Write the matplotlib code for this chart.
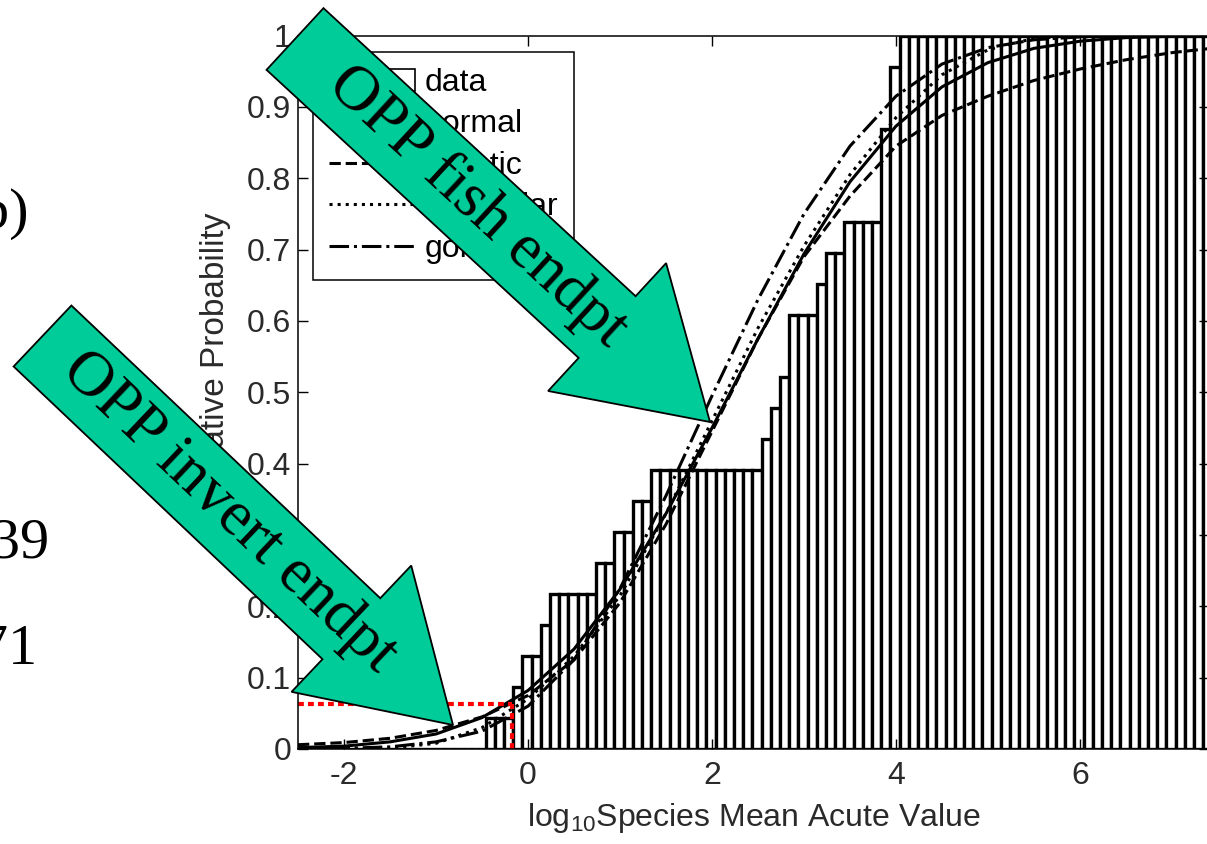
import numpy as np
import matplotlib
matplotlib.use("Agg")
import matplotlib.pyplot as plt
from matplotlib.patches import Polygon, Rectangle

plt.rcParams['font.family'] = ['Liberation Sans', 'DejaVu Sans']
plt.rcParams['mathtext.default'] = 'regular'
plt.rcParams['axes.unicode_minus'] = False

# species mean acute values (log10)
species_log = [-0.41, -0.11, -0.01, 0.19, 0.29, 0.79, 0.99, 1.19, 1.39,
               2.59, 2.69, 2.79, 2.89, 2.89, 3.19, 3.29, 3.49,
               3.89, 3.89, 3.89, 3.99, 3.99, 4.09]
bin_start, bin_width, n_bins = -2.46, 0.1, 105

# fitted cdfs
fit_x = [-2.5, -2, -1.5, -1, -0.5, 0, 0.5, 1, 1.5, 2, 2.5, 3, 3.5, 4,
         4.5, 5, 5.5, 6, 6.5, 7, 7.5, 8]
normal_p = [0.002, 0.004, 0.010, 0.021, 0.044, 0.082, 0.140, 0.224, 0.330, 0.450, 0.575,
            0.694, 0.795, 0.873, 0.928, 0.962, 0.982, 0.992, 0.997, 0.999, 1.0, 1.0]
logistic_p = [0.006, 0.009, 0.015, 0.026, 0.045, 0.075, 0.125, 0.205, 0.315, 0.445, 0.575,
              0.690, 0.775, 0.845, 0.888, 0.915, 0.937, 0.953, 0.966, 0.976, 0.983, 0.988]
triangular_p = [0.0, 0.0, 0.001, 0.008, 0.030, 0.070, 0.130, 0.215, 0.330, 0.460, 0.590,
                0.705, 0.805, 0.885, 0.945, 0.980, 0.996, 1.0, 1.0, 1.0, 1.0, 1.0]
gompertz_p = [0.0, 0.001, 0.003, 0.010, 0.025, 0.060, 0.125, 0.225, 0.355, 0.495, 0.630,
              0.750, 0.845, 0.915, 0.960, 0.983, 0.994, 0.998, 1.0, 1.0, 1.0, 1.0]
hc5_x, hc5_p = -0.17, 0.063

edges = bin_start + bin_width * np.arange(n_bins + 1)
counts, _ = np.histogram(species_log, bins=edges)
cdf = np.cumsum(counts) / len(species_log)

W, H = 1207, 844
fig = plt.figure(figsize=(W / 100, H / 100), dpi=100)
ax = fig.add_axes([298 / W, 95 / H, 910.8 / W, 713.5 / H])

bars = ax.bar(edges[:-1], cdf, width=bin_width, align='edge', color='white',
              edgecolor='black', linewidth=2.4)
ax.plot(fit_x, normal_p, color='black', ls='-', lw=2.2)
ax.plot(fit_x, logistic_p, color='black', ls='--', lw=2.2)
ax.plot(fit_x, triangular_p, color='black', ls=':', lw=2.2)
ax.plot(fit_x, gompertz_p, color='black', ls='-.', lw=2.2)

ax.plot([-2.5, hc5_x], [hc5_p, hc5_p], color='red', ls=(0, (1.4, 1)), lw=3)
ax.plot([hc5_x, hc5_x], [0, hc5_p], color='red', ls=(0, (1.4, 1)), lw=3)

ax.set_xlim(-2.5, 7.4)
ax.set_ylim(0, 1)
ax.set_xticks([-2, 0, 2, 4, 6])
yt = np.round(np.arange(0, 1.01, 0.1), 1)
ax.set_yticks(yt)
ax.set_yticklabels(['0' if v == 0 else '1' if v == 1 else f'{v:g}' for v in yt])
ax.tick_params(direction='in', top=True, right=True, length=7, width=1,
               labelsize=23, labelcolor='#2a2a2a')
ax.tick_params(axis='x', pad=9)
ax.tick_params(axis='y', pad=5)
for s in ax.spines.values():
    s.set_linewidth(1.1)
ax.set_xlabel('log$_{10}$Species Mean Acute Value', fontsize=23, color='#2a2a2a', labelpad=7)
ax.set_ylabel('Cumulative Probability', fontsize=24, color='#2a2a2a')
ax.yaxis.set_label_coords(-0.074, 0.52)

handles = [Rectangle((0, 0), 1, 1, fc='white', ec='black', lw=1.2)]
handles += ax.lines[:4]
leg = ax.legend(handles, ['data', 'normal', 'logistic', 'triangular', 'gompertz'],
                loc='upper left', bbox_to_anchor=(313 / W, 1 - 52 / H),
                bbox_transform=fig.transFigure, borderaxespad=0, fontsize=23,
                fancybox=False, framealpha=1, edgecolor='black',
                handlelength=2.7, handletextpad=0.3, labelspacing=0.36, borderpad=0.5)
leg.get_frame().set_linewidth(1.1)

# slide overlay: green block arrows and cropped slide text
ov = fig.add_axes([0, 0, 1, 1], zorder=10)
ov.set_xlim(0, W)
ov.set_ylim(H, 0)
ov.axis('off')
ov.patch.set_alpha(0)


def block_arrow(tail, tip, label, text_at):
    tail = np.array(tail, float)
    tip = np.array(tip, float)
    d = tip - tail
    L = np.hypot(*d)
    u = d / L
    n = np.array([-u[1], u[0]])
    body_w, head_w, head_len = 84, 174, 140
    b = tail + u * (L - head_len)
    pts = [tail + n * body_w / 2, b + n * body_w / 2, b + n * head_w / 2, tip,
           b - n * head_w / 2, b - n * body_w / 2, tail - n * body_w / 2]
    ov.add_patch(Polygon(pts, closed=True, fc='#00CC99', ec='black', lw=1.3))
    c = tail + u * text_at
    ang = -np.degrees(np.arctan2(u[1], u[0]))
    ov.text(c[0], c[1], label, rotation=ang, rotation_mode='anchor',
            ha='center', va='center', fontsize=46, family='Liberation Serif')


block_arrow((295, 39), (710, 422), 'OPP fish endpt', 248)
block_arrow((42.5, 336), (453, 725), 'OPP invert endpt', 257)

ov.text(29, 228, 'b)', ha='right', va='baseline', fontsize=42, family='Liberation Serif')
ov.text(50, 557, '0.39', ha='right', va='baseline', fontsize=42, family='Liberation Serif')
ov.text(38, 663, '0.71', ha='right', va='baseline', fontsize=42, family='Liberation Serif')

fig.savefig('out.png', dpi=100)
